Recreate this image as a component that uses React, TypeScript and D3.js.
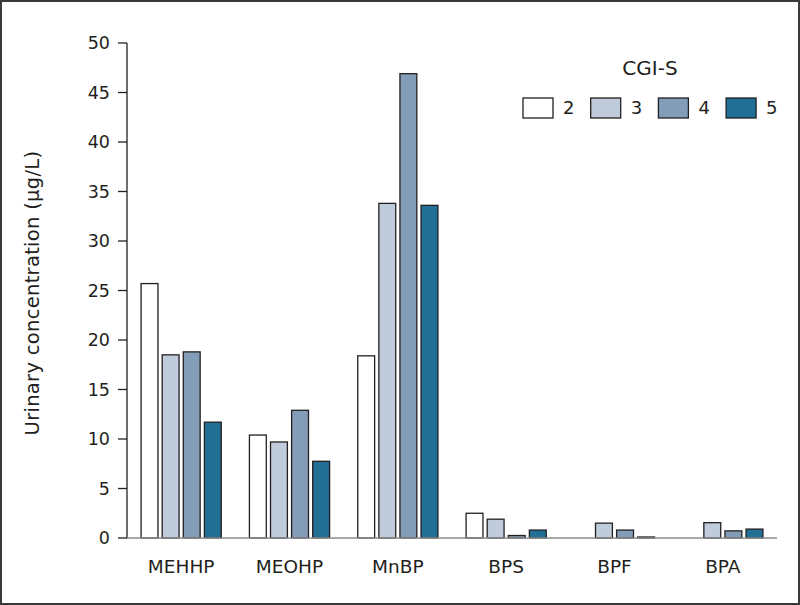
import React, { useEffect } from "react";
import { scaleBand, scaleLinear } from "d3";

const categories = ["MEHHP", "MEOHP", "MnBP", "BPS", "BPF", "BPA"];
const groups = ["2", "3", "4", "5"];
const colors = ["#ffffff", "#c0ccdb", "#839db8", "#226f96"];
// values per CGI-S group, one per category
const cgi2 = [25.7, 10.4, 18.4, 2.5, 0, 0];
const cgi3 = [18.5, 9.7, 33.8, 1.9, 1.5, 1.55];
const cgi4 = [18.8, 12.9, 46.9, 0.25, 0.8, 0.72];
const cgi5 = [11.7, 7.75, 33.6, 0.8, 0.1, 0.9];
const series = [cgi2, cgi3, cgi4, cgi5];
const yTicks = [0, 5, 10, 15, 20, 25, 30, 35, 40, 45, 50];

const W = 800;
const H = 605;
const M = { top: 43, right: 23, bottom: 67, left: 127 };
const FONT = "'DejaVu Sans', Lato, sans-serif";
const INK = "#231f20";

export default function App() {
  useEffect(() => {
    document.body.style.margin = "0";
  }, []);

  const x0 = scaleBand<string>()
    .domain(categories)
    .range([M.left, W - M.right])
    .paddingInner(0.26)
    .paddingOuter(0.13);
  const x1 = scaleBand<string>()
    .domain(groups)
    .range([0, x0.bandwidth()])
    .paddingInner(0.2);
  const y = scaleLinear().domain([0, 50]).range([H - M.bottom, M.top]);

  return (
    <svg width={W} height={H} style={{ display: "block" }} fontFamily={FONT}>
      <rect x={0} y={0} width={W} height={H} fill="#fff" />
      <rect x={1} y={1} width={W - 2} height={H - 2} fill="none" stroke="#3a3a3a" strokeWidth={2} />

      {/* bars */}
      {categories.map((c, i) => (
        <g key={c} transform={`translate(${x0(c)},0)`}>
          {groups.map((g, j) => {
            const v = series[j][i];
            if (v <= 0) return null;
            return (
              <rect
                key={g}
                x={x1(g)}
                y={y(v)}
                width={x1.bandwidth()}
                height={y(0) - y(v)}
                fill={colors[j]}
                stroke={INK}
                strokeWidth={1.3}
              />
            );
          })}
        </g>
      ))}

      {/* y axis */}
      <line x1={M.left} x2={M.left} y1={y(50)} y2={y(0)} stroke={INK} strokeWidth={1.3} />
      {yTicks.map((t) => (
        <g key={t}>
          <line x1={M.left - 9} x2={M.left} y1={y(t)} y2={y(t)} stroke={INK} strokeWidth={1.3} />
          <text x={M.left - 17} y={y(t)} dy="0.36em" textAnchor="end" fontSize={17.5} fill={INK}>
            {t}
          </text>
        </g>
      ))}
      <text
        transform={`translate(39,293) rotate(-90)`}
        textAnchor="middle"
        fontSize={19.5}
        letterSpacing={0.3}
        fill={INK}
      >
        Urinary concentration (μg/L)
      </text>

      {/* x axis */}
      <line x1={M.left} x2={W - M.right} y1={y(0)} y2={y(0)} stroke="#8c8c8c" strokeWidth={1.6} />
      {categories.map((c) => (
        <text
          key={c}
          x={(x0(c) ?? 0) + x0.bandwidth() / 2}
          y={y(0) + 35}
          textAnchor="middle"
          fontSize={18.5}
          fill={INK}
        >
          {c}
        </text>
      ))}

      {/* legend */}
      <text x={650} y={75} textAnchor="middle" fontSize={20} fill={INK}>
        CGI-S
      </text>
      {groups.map((g, j) => (
        <g key={g} transform={`translate(${523 + j * 67.7},98)`}>
          <rect width={30} height={20} fill={colors[j]} stroke={INK} strokeWidth={1.3} />
          <text x={40} y={10} dy="0.36em" fontSize={18} fill={INK}>
            {g}
          </text>
        </g>
      ))}
    </svg>
  );
}
